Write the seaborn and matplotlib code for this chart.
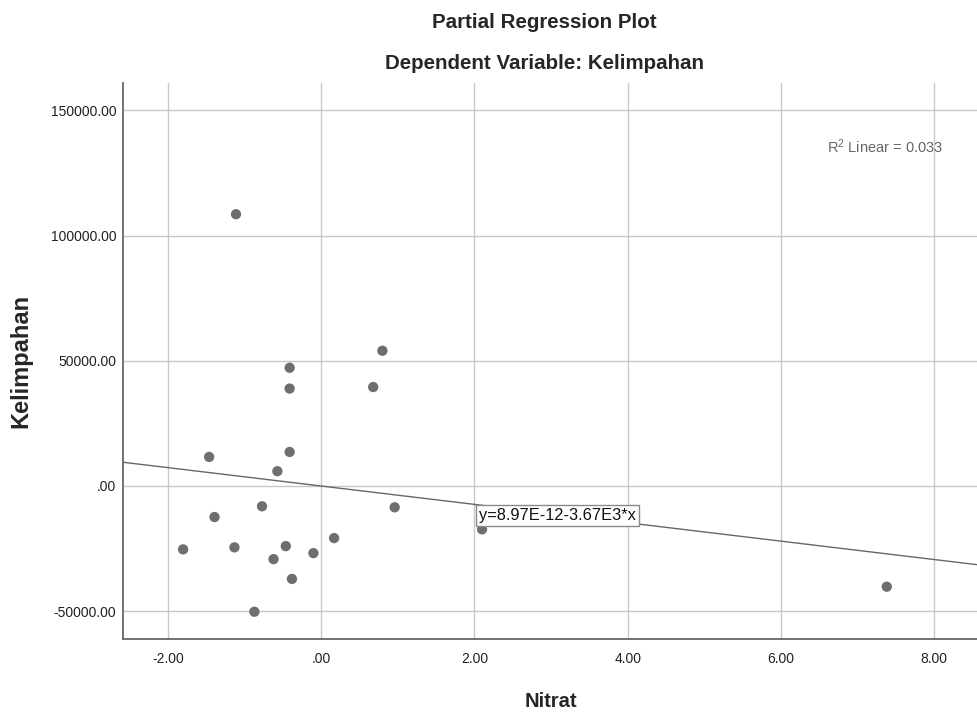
import matplotlib
matplotlib.use("Agg")
import matplotlib.pyplot as plt
import seaborn as sns
import pandas as pd

# Data
nitrat = [-1.11, 0.80, -0.41, -0.41, 0.68, -1.46, -0.41, -0.57, -0.77, -1.39, 0.96,
          -1.80, -1.13, -0.46, -0.62, -0.10, 0.17, -0.38, -0.87, 2.10, 7.38]
kelimpahan = [108500, 54000, 47200, 38900, 39500, 11600, 13600, 5900, -8100, -12400, -8500,
              -25300, -24500, -24000, -29200, -26800, -20800, -37100, -50200, -17300, -40200]
fit_intercept = 8.97e-12
fit_slope = -3.67e3
r2_text = "R$^{2}$ Linear = 0.033"
eq_text = "y=8.97E-12-3.67E3*x"
x_ticks = [-2, 0, 2, 4, 6, 8]
x_tick_labels = ["-2.00", ".00", "2.00", "4.00", "6.00", "8.00"]
y_ticks = [-50000, 0, 50000, 100000, 150000]
y_tick_labels = ["-50000.00", ".00", "50000.00", "100000.00", "150000.00"]

sns.set_style("white")
plt.rcParams["font.family"] = ["Liberation Sans", "DejaVu Sans"]
plt.rcParams["mathtext.fontset"] = "custom"
plt.rcParams["mathtext.rm"] = "Liberation Sans"
plt.rcParams["mathtext.it"] = "Liberation Sans:italic"

df = pd.DataFrame({"Nitrat": nitrat, "Kelimpahan": kelimpahan})

fig = plt.figure(figsize=(9.78, 7.15), dpi=100)
ax = fig.add_axes([123.3 / 978, 1 - 639.3 / 715, (978 - 123.3) / 978, (639.3 - 82.7) / 715])

ax.set_xlim(-2.58, 8.57)
ax.set_ylim(-61200, 161000)

ax.set_xticks(x_ticks)
ax.set_xticklabels(x_tick_labels)
ax.set_yticks(y_ticks)
ax.set_yticklabels(y_tick_labels)
ax.grid(True, color="#c8c8c8", linewidth=1.0)
ax.set_axisbelow(True)
ax.tick_params(axis="both", length=0, labelsize=10, colors="#222222")
ax.tick_params(axis="x", pad=9)
ax.tick_params(axis="y", pad=5)

for side in ["top", "right"]:
    ax.spines[side].set_visible(False)
for side in ["left", "bottom"]:
    ax.spines[side].set_color("#666666")
    ax.spines[side].set_linewidth(1.3)

ax.axline((0, fit_intercept), slope=fit_slope, color="#666666", linewidth=1.0, zorder=2)

sns.scatterplot(data=df, x="Nitrat", y="Kelimpahan", ax=ax, s=55, color="#6e6e6e",
                edgecolor="none", zorder=3)

ax.text(2.06, -11600, eq_text, ha="left", va="center", fontsize=11.8, color="#111111",
        bbox=dict(facecolor="white", edgecolor="#8a8a8a", boxstyle="square,pad=0.18",
                  linewidth=1.0), zorder=5)
ax.text(8.11, 135400, r2_text, ha="right", va="center", fontsize=10.5, color="#666666")

ax.set_xlabel("Nitrat", fontsize=14.5, fontweight="bold")
ax.set_ylabel("Kelimpahan", fontsize=17, fontweight="bold")
ax.xaxis.set_label_coords(0.5, -0.111)
ax.xaxis.label.set_va("center")
ax.yaxis.set_label_coords(-0.1197, 0.5)
ax.yaxis.label.set_va("center")

fig.text(544 / 978, 1 - 28 / 715, "Partial Regression Plot", ha="center", va="baseline",
         fontsize=14.8, fontweight="bold")
fig.text(545 / 978, 1 - 69 / 715, "Dependent Variable: Kelimpahan", ha="center", va="baseline",
         fontsize=14.8, fontweight="bold")

fig.savefig("out.png", dpi=100)
